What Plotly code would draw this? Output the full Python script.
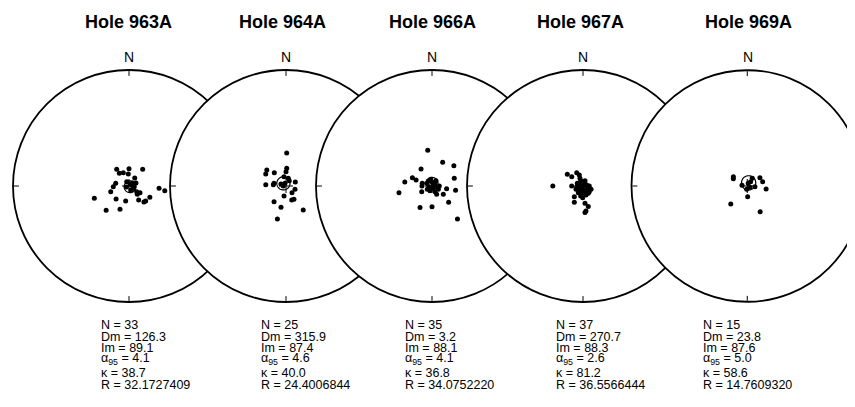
import numpy as np
import plotly.graph_objects as go

# ---------------- data ----------------
holes = ["Hole 963A", "Hole 964A", "Hole 966A", "Hole 967A", "Hole 969A"]

dec_963 = [323.6, 0, 39.4, 322.6, 336.8, 356.7, 35.5, 281.5, 267.4, 252.7, 332, 69.7, 118.1, 126.5,
           121.3, 135, 94.3, 97.4, 118.3, 131.9, 136.8, 145.3, 192.4, 225, 250.6, 223.4, 201.1,
           26.6, 49.4, 95.7, 153.4, 248, 66.8]
inc_963 = [75.5, 77.9, 74.9, 78.8, 79.9, 81.6, 83.1, 80.5, 79.0, 76.6, 86.6, 88.0, 86.6, 83.3,
           81.0, 81.8, 68.8, 64.6, 73.4, 74.3, 74.7, 78.1, 79.2, 77.2, 64.1, 66.6, 72.5,
           88.4, 86.8, 86.5, 86.9, 88.1, 84.7]

dec_964 = [1.2, 309.7, 300.6, 318.7, 2.3, 0, 347.9, 16.6, 31.9, 273.7, 275.8, 282.7, 66.7, 270,
           339.7, 110.1, 138.2, 191.3, 217.4, 157.8, 149, 193.2, 144.2, 194.6, 291.8]
inc_964 = [66.7, 72.5, 73.5, 77.6, 77.6, 80.0, 83.4, 84.4, 85.7, 75.8, 81.1, 81.4, 82.9, 88.1,
           88.0, 83.3, 83.7, 82.9, 76.2, 79.4, 79.2, 74.7, 69.3, 66.0, 86.2]

dec_966 = [353.2, 24.3, 47.3, 327.1, 278.3, 292.8, 290.6, 258.6, 285.6, 270, 241.1, 323.5, 356, 48,
           255.5, 163, 105.5, 90, 203, 152.2, 150.5, 126.3, 100.4, 71, 100.3, 134.3, 180, 209,
           142.3, 297, 52, 235, 117.6, 349, 37]
inc_966 = [64.6, 71.8, 69.1, 75.9, 70.7, 75.1, 78.1, 66.3, 82.9, 83.0, 81.8, 85.7, 87.0, 87.2,
           88.1, 88.3, 86.6, 84.9, 86.4, 85.5, 83.4, 80.2, 79.6, 73.5, 73.2, 73.7, 75.5, 72.7,
           60.6, 85.9, 88.9, 86.0, 85.0, 85.2, 85.4]

dec_967 = [306.7, 309.5, 334.7, 341.4, 338.7, 20.7, 270, 270, 263.7, 232.5, 185, 74.9, 112.4, 144,
           215, 219.1, 208.1, 181.5, 173.4, 165.6, 175.7, 173.2, 295.3, 334.3, 23, 222.8, 160.7,
           118, 90, 185.5, 244.8, 335.3, 16.9, 132.1, 270, 161.6, 193]
inc_967 = [76.3, 79.8, 79.7, 81.9, 84.2, 86.0, 68.8, 82.1, 85.6, 87.3, 87.7, 87.3, 83.9, 83.7,
           84.3, 80.4, 77.1, 81.8, 77.8, 75.1, 71.3, 72.4, 85.6, 87.9, 89.5, 86.2, 85.8,
           86.6, 85.6, 84.9, 84.6, 86.2, 87.6, 84.1, 86.7, 83.4, 82.8]

dec_969 = [303.6, 297.5, 33, 56.8, 74.4, 99, 177.9, 222.7, 153.4, 277.5, 20.3, 115.7, 190, 38.3, 95.2]
inc_969 = [78.3, 79.0, 83.6, 79.4, 78.8, 76.6, 82.5, 72.9, 69.7, 86.3, 88.0, 87.9, 87.7, 86.2, 84.6]

stat_N = [33, 25, 35, 37, 15]
stat_Dm = ["126.3", "315.9", "3.2", "270.7", "23.8"]
stat_Im = ["89.1", "87.4", "88.1", "88.3", "87.6"]
stat_a95 = ["4.1", "4.6", "4.1", "2.6", "5.0"]
stat_kappa = ["38.7", "40.0", "36.8", "81.2", "58.6"]
stat_R = ["32.1727409", "24.4006844", "34.0752220", "36.5566444", "14.7609320"]

decs = [dec_963, dec_964, dec_966, dec_967, dec_969]
incs = [inc_963, inc_964, inc_966, inc_967, inc_969]

# ---------------- layout geometry (figure pixels; page adds an 8px body margin) ----------------
W, H = 855, 407
OFF = 8
net_cx = [129 - OFF, 286 - OFF, 432 - OFF, 583 - OFF, 747.5 - OFF]
net_cy = 186 - OFF
net_R = 116
title_cx = [128 - OFF, 282 - OFF, 432 - OFF, 580 - OFF, 748 - OFF]
title_y = 22.5 - OFF
north_y = 57 - OFF
stats_x = [v - OFF - 2.3 for v in [101.7, 261.7, 405, 556, 703.3]]
line_y = [v - OFF for v in [325, 336.7, 348.3, 359.3, 373.3, 385]]

FONT = "Liberation Sans, Arial, Helvetica, sans-serif"


def eqarea(inc):
    inc = np.asarray(inc, dtype=float)
    return np.sqrt(2) * np.sin(np.radians(90 - inc) / 2)


def small_circle(D, I, a, n=73):
    d, i, a = np.radians([D, I, a])
    m = np.array([np.cos(i) * np.cos(d), np.cos(i) * np.sin(d), np.sin(i)])
    u = np.array([-np.sin(i) * np.cos(d), -np.sin(i) * np.sin(d), np.cos(i)])
    v = np.cross(m, u)
    t = np.linspace(0, 2 * np.pi, n)
    p = np.cos(a) * m[:, None] + np.sin(a) * (np.cos(t) * u[:, None] + np.sin(t) * v[:, None])
    dd = np.degrees(np.arctan2(p[1], p[0])) % 360
    ii = np.degrees(np.arcsin(np.clip(p[2], -1, 1)))
    return dd, ii


fig = go.Figure()
layout_polars = {}
for k in range(5):
    pid = "polar" if k == 0 else f"polar{k+1}"
    cx = net_cx[k]
    x0 = max(0.0, (cx - net_R) / W)
    x1 = min(1.0, (cx + net_R) / W)
    y0 = 1 - (net_cy + net_R) / H
    y1 = 1 - (net_cy - net_R) / H
    layout_polars[pid] = dict(
        domain=dict(x=[x0, x1], y=[y0, y1]),
        bgcolor="white",
        radialaxis=dict(range=[0, 1], visible=False, showgrid=False),
        angularaxis=dict(
            rotation=90, direction="clockwise",
            tickmode="array", tickvals=[0, 90, 180, 270],
            showticklabels=False,
            ticks="inside", ticklen=5, tickwidth=1, tickcolor="black",
            showline=True, linecolor="black", linewidth=1.8, showgrid=False,
        ),
    )
    # data points
    fig.add_trace(go.Scatterpolar(
        r=eqarea(incs[k]), theta=decs[k], mode="markers", subplot=pid,
        marker=dict(size=5, color="black"), showlegend=False, hoverinfo="skip",
    ))
    # alpha95 confidence circle around the mean
    cd, ci = small_circle(float(stat_Dm[k]), float(stat_Im[k]), float(stat_a95[k]))
    fig.add_trace(go.Scatterpolar(
        r=eqarea(ci), theta=cd, mode="lines", subplot=pid,
        line=dict(color="black", width=1.2), showlegend=False, hoverinfo="skip",
    ))
    # centre cross
    fig.add_trace(go.Scatterpolar(
        r=[0], theta=[0], mode="markers", subplot=pid,
        marker=dict(symbol="cross-thin", size=10, line=dict(color="black", width=1)),
        showlegend=False, hoverinfo="skip",
    ))

annotations = []
for k in range(5):
    annotations.append(dict(
        text=f"<b>{holes[k]}</b>", x=title_cx[k] / W, y=1 - title_y / H, xref="paper", yref="paper",
        showarrow=False, xanchor="center", yanchor="middle",
        font=dict(family=FONT, size=18, color="black"),
    ))
    annotations.append(dict(
        text="N", x=net_cx[k] / W, y=1 - north_y / H, xref="paper", yref="paper",
        showarrow=False, xanchor="center", yanchor="middle",
        font=dict(family=FONT, size=14, color="black"),
    ))
    lines = [
        f"N = {stat_N[k]}",
        f"Dm = {stat_Dm[k]}",
        f"Im = {stat_Im[k]}",
        f"α<sub>95</sub> = {stat_a95[k]}",
        f"κ = {stat_kappa[k]}",
        f"R = {stat_R[k]}",
    ]
    for j, t in enumerate(lines):
        annotations.append(dict(
            text=t, x=stats_x[k] / W, y=1 - line_y[j] / H, xref="paper", yref="paper",
            showarrow=False, xanchor="left", yanchor="middle", align="left",
            font=dict(family=FONT, size=12.5, color="black"),
        ))

fig.update_layout(
    width=W, height=H,
    margin=dict(l=0, r=0, t=0, b=0),
    paper_bgcolor="white", plot_bgcolor="white",
    showlegend=False,
    annotations=annotations,
    **layout_polars,
)

fig.write_html("out.html")
